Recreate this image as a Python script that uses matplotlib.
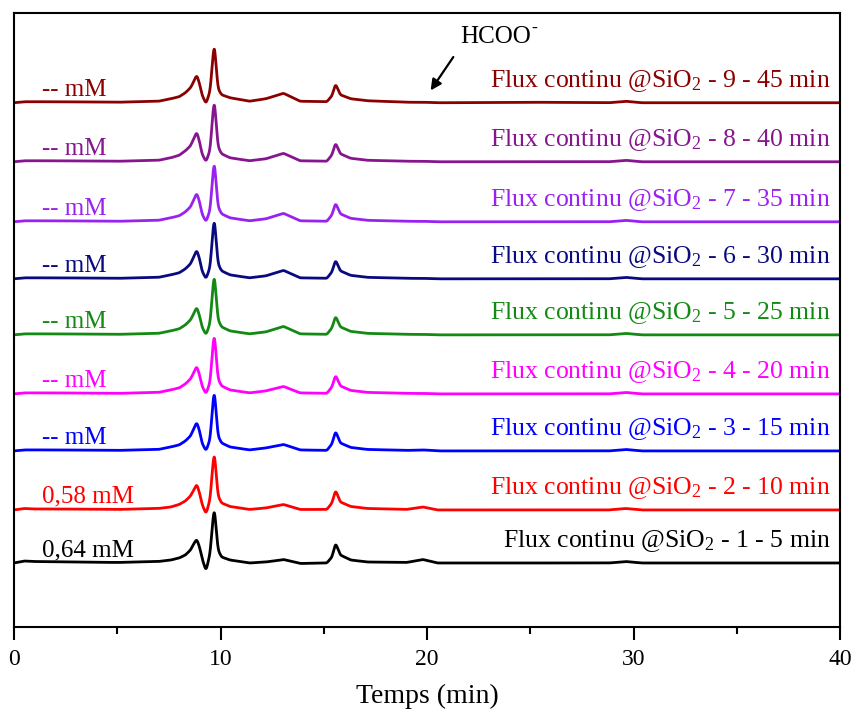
import numpy as np
import matplotlib
matplotlib.use('Agg')
import matplotlib.pyplot as plt

plt.rcParams['font.family'] = ['Liberation Serif', 'DejaVu Serif']
plt.rcParams['mathtext.fontset'] = 'custom'
plt.rcParams['mathtext.rm'] = 'Liberation Serif'
plt.rcParams['mathtext.it'] = 'Liberation Serif:italic'

# retention times where the traces were read (min)
times = [0.0, 0.5, 0.9, 2.0, 5.0, 7.0, 7.6, 8.0, 8.3, 8.55, 8.7, 8.85, 9.0, 9.1,
         9.3, 9.5, 9.6, 9.7, 9.78, 9.88, 10.05, 10.45, 11.4, 12.2, 13.05, 13.85,
         15.15, 15.4, 15.57, 15.8, 16.3, 17.1, 19.0, 19.8, 20.5, 25.0, 28.8,
         29.6, 30.4, 40.0]

# signal above each trace's own baseline (arbitrary units)
sig1 = [0, 2, 1.5, 1.2, 0.5, 1.5, 3, 5, 8, 13, 19, 24, 15, 5,
        -8, 10, 36, 58, 36, 13, 6, 3, 0, 1, 3.5, -0.5,
        0, 6, 20, 8, 3, 1, 0.5, 3.5, 0, 0, 0, 1.5, 0, 0]
sig2 = [0, 1.5, 1, 1, 0.5, 1.5, 3, 5.5, 9, 14, 20, 26, 16, 6,
        -4, 11, 38, 61, 38, 14, 7, 3.5, 0.5, 2, 5.5, 0.5,
        0.5, 7, 20, 8, 3.5, 1.5, 0.5, 3, 0, 0, 0, 1.5, 0, 0]
sig3 = [0, 1, 1, 1, 0.5, 1.5, 4, 6, 10, 15, 22, 29, 19, 8,
        0, 12, 40, 64, 40, 15, 8, 4, 1, 3, 6.5, 1,
        0.5, 7, 20, 8, 3.5, 1.5, 0.5, 1, 0, 0, 0, 1.5, 0, 0]
sig4 = [0, 1, 1, 1, 0.5, 1.5, 4, 6, 10, 15, 21, 28, 18, 8,
        0, 12, 40, 64, 40, 15, 8, 4, 1, 3, 7.5, 1,
        0.5, 7, 19, 8, 3.5, 1.5, 0.5, 0.5, 0, 0, 0, 1.5, 0, 0]
sig5 = [0, 1, 1, 1, 0.5, 1.5, 4, 6, 10, 15, 21, 28, 18, 8,
        0, 12, 40, 64, 40, 15, 8, 4, 1, 3, 8.5, 1,
        0.5, 7, 19, 8, 3.5, 1.5, 0.5, 0.5, 0, 0, 0, 1.5, 0, 0]
sig6 = [0, 1, 1, 1, 0.5, 1.5, 4, 6, 10, 15, 22, 29, 19, 8,
        0, 12, 40, 64, 40, 15, 8, 4, 1, 3, 8.5, 1,
        0.5, 7, 19, 8, 3.5, 1.5, 0.5, 0.5, 0, 0, 0, 1.5, 0, 0]
sig7 = [0, 1, 1, 1, 0.5, 1.5, 4, 6, 10, 15, 22, 29, 19, 8,
        0, 12, 40, 64, 40, 15, 8, 4, 1, 3, 8.5, 1,
        0.5, 7, 19, 8, 3.5, 1.5, 0.5, 0.5, 0, 0, 0, 1.5, 0, 0]
sig8 = [0, 1, 1, 1, 0.5, 1.5, 4, 6.5, 11, 16, 23, 30, 19, 8,
        0, 12, 41, 65, 41, 15, 8, 4, 1, 3, 8.5, 1,
        0.5, 7, 19, 8, 3.5, 1.5, 0.5, 0.5, 0, 0, 0, 1.5, 0, 0]
sig9 = [0, 1, 1, 1, 0.5, 1.5, 4, 6, 10, 15, 21, 28, 18, 8,
        -1, 12, 38, 62, 38, 14, 8, 5, 1.5, 4, 9.5, 1.5,
        1, 7, 19, 8, 4, 2, 0.5, 0.5, 0, 0.5, 0, 1.5, 0, 0]
signals = [sig1, sig2, sig3, sig4, sig5, sig6, sig7, sig8, sig9]

baselines = [64, 117, 176, 233, 292, 348, 405, 465, 524]
colors = ['#000000', '#ff0000', '#0000ff', '#ff00ff', '#138a13',
          '#0a0a80', '#9a22f0', '#86158f', '#8b0000']
conc = ['0,64 mM', '0,58 mM', '-- mM', '-- mM', '-- mM',
        '-- mM', '-- mM', '-- mM', '-- mM']
runs = ['1 - 5 min', '2 - 10 min', '3 - 15 min', '4 - 20 min', '5 - 25 min',
        '6 - 30 min', '7 - 35 min', '8 - 40 min', '9 - 45 min']

# dense grid + light smoothing so the read points draw as a smooth trace
t_fine = np.arange(0, 40.001, 0.01)
k = np.arange(-15, 16)
kern = np.exp(-0.5 * (k / 4.0) ** 2)
kern /= kern.sum()

fig = plt.figure(figsize=(8.53, 7.17), dpi=100)
ax = fig.add_axes([0.0164, 0.1255, 0.9684, 0.8568])

for i in range(9):
    y = np.interp(t_fine, times, signals[i])
    y = np.convolve(np.pad(y, 15, mode='edge'), kern, mode='valid')
    ax.plot(t_fine, y + baselines[i], color=colors[i], lw=2.0)
    ax.text(1.35, baselines[i] + 13, conc[i], color=colors[i], fontsize=18,
            ha='left', va='center')
    ax.text(39.55, baselines[i] + 22, 'Flux continu @SiO$_2$ - ' + runs[i],
            color=colors[i], fontsize=18.5, ha='right', va='center')

ax.annotate('', xy=(20.1, 534), xytext=(21.35, 572),
            arrowprops=dict(arrowstyle='-|>', color='black', lw=1.6,
                            mutation_scale=16))
ax.text(21.6, 590, 'HCOO', fontsize=18, ha='left', va='center')
ax.text(25.05, 598, '-', fontsize=13, ha='left', va='center')

ax.set_xlim(0, 40)
ax.set_ylim(0, 614)
ax.set_yticks([])
ax.set_xticks([0, 10, 20, 30, 40])
ax.set_xticks([5, 15, 25, 35], minor=True)
ax.tick_params(axis='x', which='major', direction='out', length=9, width=1.5,
               labelsize=17, pad=7)
ax.tick_params(axis='x', which='minor', direction='out', length=5, width=1.5)
for s in ax.spines.values():
    s.set_linewidth(1.5)
ax.set_xlabel('Temps (min)', fontsize=20, labelpad=10)

fig.savefig('out.png', dpi=100)
